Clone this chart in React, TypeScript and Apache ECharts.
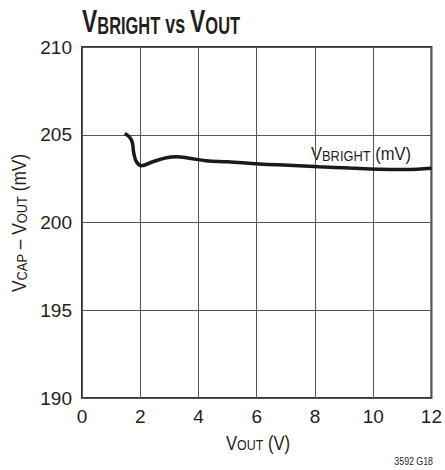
import React, { useEffect, useRef } from "react";
import * as echarts from "echarts";

const xTicks = [0, 2, 4, 6, 8, 10, 12];
const yTicks = [190, 195, 200, 205, 210];
const vout = [1.47, 1.7, 1.78, 1.87, 2.04, 2.43, 2.9, 3.24, 3.69, 4.26, 4.99, 6.09, 7.1, 8.14, 9.2, 10.19, 11.1, 12];
const vbright = [205.08, 204.7, 203.94, 203.46, 203.24, 203.46, 203.69, 203.75, 203.66, 203.52, 203.46, 203.33, 203.26, 203.18, 203.1, 203.03, 203.02, 203.09];

const FONT = "'Liberation Sans', Arial, sans-serif";
const INK = "#231f20";

export default function App() {
  const ref = useRef<HTMLDivElement>(null);
  useEffect(() => {
    if (!ref.current) return;
    const chart = echarts.init(ref.current, undefined, { renderer: "svg" });
    const data = vout.map((x, i) => [x, vbright[i]]);
    const tok = (size: number, lh: number, bold = false) => ({
      fontFamily: FONT,
      fontSize: size,
      fontWeight: bold ? "bold" : "normal",
      fill: INK,
      verticalAlign: "bottom",
      lineHeight: lh,
    });
    chart.setOption({
      animation: false,
      backgroundColor: "#fff",
      textStyle: { fontFamily: FONT, color: INK },
      grid: { left: 82, top: 47, width: 351, height: 351, show: true, borderColor: "#333", borderWidth: 2, backgroundColor: "transparent" },
      xAxis: {
        type: "value",
        min: 0,
        max: 12,
        interval: 2,
        axisLine: { show: false },
        axisTick: { show: false },
        axisLabel: { margin: 9, fontSize: 19, color: INK, fontFamily: FONT, customValues: xTicks },
        splitLine: { show: true, lineStyle: { color: "#555", width: 1 } },
      },
      yAxis: {
        type: "value",
        min: 190,
        max: 210,
        interval: 5,
        axisLine: { show: false },
        axisTick: { show: false },
        axisLabel: { margin: 10, fontSize: 19, color: INK, fontFamily: FONT, customValues: yTicks },
        splitLine: { show: true, lineStyle: { color: "#555", width: 1 } },
      },
      graphic: [
        {
          type: "text",
          x: 82,
          y: 3,
          scaleX: 0.715,
          style: {
            text: "{v|V}{s|BRIGHT}{vs| vs }{v|V}{s|OUT}",
            rich: { v: tok(32, 34, true), s: tok(23, 34, true), vs: tok(25, 34, true) },
          },
        },
        {
          type: "text",
          x: 18,
          y: 223,
          rotation: Math.PI / 2,
          scaleX: 0.86,
          style: {
            text: "{v|V}{s|CAP}{v| – V}{s|OUT}{v| (mV)}",
            align: "center",
            verticalAlign: "middle",
            rich: { v: tok(20, 22), s: tok(15, 22) },
          },
        },
        {
          type: "text",
          x: 258,
          y: 442,
          scaleX: 0.83,
          style: {
            text: "{v|V}{s|OUT}{v| (V)}",
            align: "center",
            verticalAlign: "middle",
            rich: { v: tok(20, 22), s: tok(15, 22) },
          },
        },
        {
          type: "text",
          x: 311,
          y: 143,
          scaleX: 0.92,
          style: {
            text: "{v|V}{s|BRIGHT}{v| (mV)}",
            rich: { v: tok(18, 20), s: tok(14, 20) },
          },
        },
        {
          type: "text",
          x: 433,
          y: 461,
          scaleX: 0.8,
          style: { text: "3592 G18", fontFamily: FONT, fontSize: 11, fill: INK, align: "right", verticalAlign: "middle" },
        },
      ],
      series: [
        {
          type: "line",
          data,
          smooth: 0.4,
          symbol: "none",
          lineStyle: { color: "#1a1a1a", width: 3.5 },
        },
      ],
    });
    return () => chart.dispose();
  }, []);
  return <div ref={ref} style={{ width: 445, height: 470, position: "absolute", left: 0, top: 0 }} />;
}
